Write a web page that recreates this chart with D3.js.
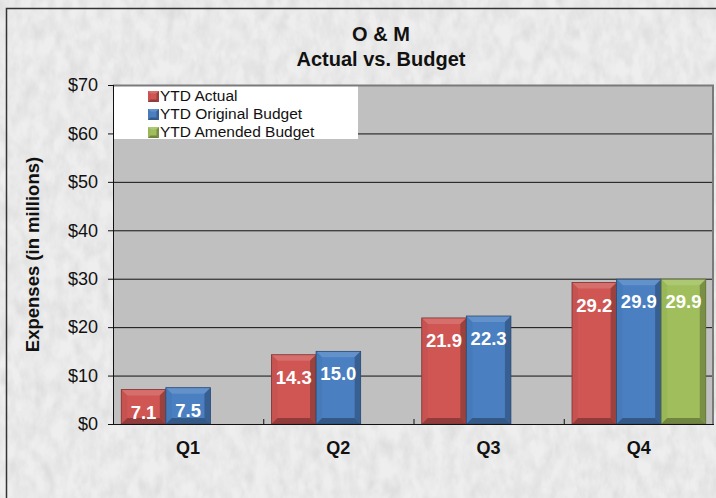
<!DOCTYPE html>
<html>
<head>
<meta charset="utf-8">
<script src="https://cdn.jsdelivr.net/npm/d3@7"></script>
<style>
  body { margin: 0; background: #fff; }
  svg { display: block; font-family: Arial, "Liberation Sans", sans-serif; }
</style>
</head>
<body>
<div id="chart"></div>
<script>
const categories = ["Q1", "Q2", "Q3", "Q4"];
const ytdActual = [7.1, 14.3, 21.9, 29.2];
const ytdOriginal = [7.5, 15.0, 22.3, 29.9];
const ytdAmended = [null, null, null, 29.9];
const seriesNames = ["YTD Actual", "YTD Original Budget", "YTD Amended Budget"];
const seriesColors = ["#cf5653", "#4a7fc1", "#a0bf5c"];
const yTicks = [0, 10, 20, 30, 40, 50, 60, 70];

const W = 716, H = 498;
const margin = { top: 85, right: 2, bottom: 74, left: 113 };
const width = W - margin.left - margin.right;
const height = H - margin.top - margin.bottom;

const series = [ytdActual, ytdOriginal, ytdAmended];

const svg = d3.select("#chart").append("svg")
    .attr("width", W)
    .attr("height", H);

// textured background
const defs = svg.append("defs");
const tex = defs.append("filter").attr("id", "paper")
    .attr("x", 0).attr("y", 0).attr("width", "100%").attr("height", "100%");
tex.append("feTurbulence").attr("type", "fractalNoise")
    .attr("baseFrequency", "0.09 0.05").attr("numOctaves", 3).attr("seed", 4).attr("result", "n");
tex.append("feColorMatrix").attr("in", "n").attr("type", "matrix")
    .attr("values", "0 0 0 0 0.6  0 0 0 0 0.6  0 0 0 0 0.6  0.9 0.9 0.9 0 -1.05");

svg.append("rect").attr("width", W).attr("height", H).attr("fill", "#eeeeee");
svg.append("rect").attr("width", W).attr("height", H).attr("filter", "url(#paper)").attr("opacity", 0.5);

// outer frame
svg.append("rect")
    .attr("x", 6.5).attr("y", 8.5)
    .attr("width", W).attr("height", H)
    .attr("fill", "none").attr("stroke", "#333").attr("stroke-width", 1.5);

// title
const title = svg.append("text")
    .attr("text-anchor", "middle")
    .attr("font-weight", "bold")
    .attr("font-size", "20px")
    .attr("fill", "#111");
title.append("tspan").attr("x", 381).attr("y", 41).text("O & M");
title.append("tspan").attr("x", 381).attr("y", 66).text("Actual vs. Budget");

const g = svg.append("g").attr("transform", `translate(${margin.left},${margin.top})`);

const x0 = d3.scaleBand().domain(categories).range([0, width]).padding(0);
const x1 = d3.scaleBand().domain(d3.range(3)).range([0, x0.bandwidth()]).paddingOuter(0.185).paddingInner(0);
const y = d3.scaleLinear().domain([0, 70]).range([height, 0]);

// plot area
g.append("rect").attr("width", width).attr("height", height).attr("fill", "#c0c0c0");

// gridlines
g.append("g").selectAll("line").data(yTicks.filter(d => d > 0))
    .join("line")
    .attr("x1", 0).attr("x2", width)
    .attr("y1", d => y(d) + 0.5).attr("y2", d => y(d) + 0.5)
    .attr("stroke", "#111").attr("stroke-width", 1);

// legend box
const legend = g.append("g");
legend.append("rect").attr("x", 0).attr("y", 0).attr("width", 245).attr("height", 54).attr("fill", "#fff");

// plot border top/right
g.append("path")
    .attr("d", `M0,0.5H${width - 1}V${height}`)
    .attr("fill", "none").attr("stroke", "#7a7a7a").attr("stroke-width", 2);

function shade(c, k) {
    return k > 0 ? d3.interpolateRgb(c, "#fff")(k) : d3.interpolateRgb(c, "#000")(-k);
}

function bevelBar(sel, x, yTop, w, h, color, b) {
    b = Math.min(b, w / 2, h / 2);
    const x2 = x + w, y2 = yTop + h;
    sel.append("rect").attr("x", x).attr("y", yTop).attr("width", w).attr("height", h).attr("fill", color);
    const poly = (pts, fill) => sel.append("polygon").attr("points", pts.map(p => p.join(",")).join(" ")).attr("fill", fill);
    poly([[x, yTop], [x2, yTop], [x2 - b, yTop + b], [x + b, yTop + b]], shade(color, 0.14));
    poly([[x, yTop], [x + b, yTop + b], [x + b, y2 - b], [x, y2]], shade(color, -0.04));
    poly([[x2, yTop], [x2, y2], [x2 - b, y2 - b], [x2 - b, yTop + b]], shade(color, -0.25));
    poly([[x, y2], [x + b, y2 - b], [x2 - b, y2 - b], [x2, y2]], shade(color, -0.3));
}

// bars
const rows = [];
categories.forEach((c, i) => series.forEach((s, j) => {
    if (s[i] != null) rows.push({ cat: c, s: j, v: s[i] });
}));

const barsG = g.append("g");
rows.forEach(d => {
    const bx = x0(d.cat) + x1(d.s);
    const bg = barsG.append("g");
    bevelBar(bg, bx, y(d.v), x1.bandwidth(), y(0) - y(d.v), seriesColors[d.s], 6);
    bg.append("rect")
        .attr("x", bx).attr("y", y(d.v)).attr("width", x1.bandwidth()).attr("height", y(0) - y(d.v))
        .attr("fill", "none").attr("stroke", shade(seriesColors[d.s], -0.4)).attr("stroke-width", 0.8);
});

// data labels
g.append("g").selectAll("text").data(rows)
    .join("text")
    .attr("x", d => x0(d.cat) + x1(d.s) + x1.bandwidth() / 2)
    .attr("y", d => y(d.v) + 29)
    .attr("text-anchor", "middle")
    .attr("font-weight", "bold")
    .attr("font-size", "18.5px")
    .attr("fill", "#fff")
    .text(d => d.v.toFixed(1));

// y axis
const yAxis = g.append("g")
    .call(d3.axisLeft(y).tickValues(yTicks).tickSize(5).tickPadding(10).tickFormat(d => "$" + d));
yAxis.select(".domain").attr("stroke", "#111").attr("d", `M0.5,${y(70)}V${y(0)}`);
yAxis.selectAll(".tick line").attr("stroke", "#111");
yAxis.selectAll("text").attr("font-size", "18px").attr("font-family", "Arial, 'Liberation Sans', sans-serif").attr("fill", "#111");

// x axis
const xAxis = g.append("g").attr("transform", `translate(0,${height})`);
xAxis.append("line").attr("x1", 0).attr("x2", width).attr("y1", 0.5).attr("y2", 0.5).attr("stroke", "#111");
xAxis.selectAll(".tk").data(categories.slice(1))
    .join("line")
    .attr("x1", d => x0(d) + 0.5).attr("x2", d => x0(d) + 0.5)
    .attr("y1", -5).attr("y2", 0)
    .attr("stroke", "#111");
xAxis.selectAll(".lbl").data(categories)
    .join("text")
    .attr("x", d => x0(d) + x0.bandwidth() / 2)
    .attr("y", 30)
    .attr("text-anchor", "middle")
    .attr("font-weight", "bold")
    .attr("font-size", "18px")
    .attr("fill", "#111")
    .text(d => d);

// y axis title
svg.append("text")
    .attr("transform", `translate(39,${margin.top + height / 2}) rotate(-90)`)
    .attr("text-anchor", "middle")
    .attr("font-weight", "bold")
    .attr("font-size", "18.5px")
    .attr("fill", "#111")
    .text("Expenses (in millions)");

// legend items
const li = legend.selectAll(".item").data(seriesNames)
    .join("g")
    .attr("transform", (d, i) => `translate(35,${4 + i * 18})`);
li.each(function (d, i) {
    bevelBar(d3.select(this), 0, 2, 11, 11, seriesColors[i], 2.5);
});
li.append("text")
    .attr("x", 12).attr("y", 12)
    .attr("font-size", "15.5px")
    .attr("fill", "#111")
    .text(d => d);
</script>
</body>
</html>
